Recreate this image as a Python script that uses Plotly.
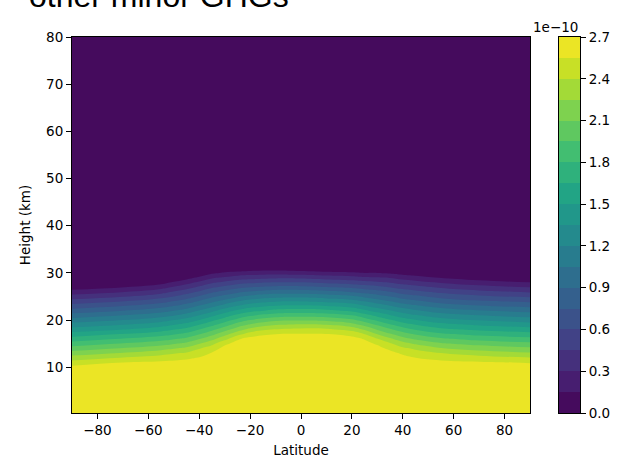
import plotly.graph_objects as go
from plotly.colors import sample_colorscale

# ---------------- data (values in units of 1e-10) ----------------
latitudes = [-90, -70, -55, -45, -40, -35, -30, -25, -20, -10, 0,
             10, 20, 25, 30, 35, 40, 45, 55, 70, 90]

heights_km = [0.3, 5, 9, 10, 11, 12, 13, 14, 15, 16, 17, 18, 19, 20,
              22, 24, 26, 27, 28, 29, 30, 31, 32, 34, 40, 50, 60, 70, 80]

ghg_1e10 = [
    [2.6, 2.6, 2.6, 2.6, 2.6, 2.6, 2.6, 2.6, 2.6, 2.6, 2.6, 2.6, 2.6, 2.6, 2.6, 2.6, 2.6, 2.6, 2.6, 2.6, 2.6],   # 0.3
    [2.6, 2.6, 2.6, 2.6, 2.6, 2.6, 2.6, 2.6, 2.6, 2.6, 2.6, 2.6, 2.6, 2.6, 2.6, 2.6, 2.6, 2.6, 2.6, 2.6, 2.6],   # 5
    [2.6, 2.6, 2.6, 2.6, 2.6, 2.6, 2.6, 2.6, 2.6, 2.6, 2.6, 2.6, 2.6, 2.6, 2.6, 2.6, 2.6, 2.6, 2.6, 2.6, 2.6],   # 9
    [2.59, 2.6, 2.6, 2.6, 2.6, 2.6, 2.6, 2.6, 2.6, 2.6, 2.6, 2.6, 2.6, 2.6, 2.6, 2.6, 2.6, 2.6, 2.6, 2.6, 2.6],  # 10
    [2.46, 2.55, 2.58, 2.6, 2.6, 2.6, 2.6, 2.6, 2.6, 2.6, 2.6, 2.6, 2.6, 2.6, 2.6, 2.6, 2.6, 2.6, 2.59, 2.57, 2.54],  # 11
    [2.32, 2.41, 2.47, 2.52, 2.56, 2.6, 2.6, 2.6, 2.6, 2.6, 2.6, 2.6, 2.6, 2.6, 2.6, 2.6, 2.6, 2.55, 2.50, 2.46, 2.41],  # 12
    [2.17, 2.26, 2.34, 2.42, 2.47, 2.56, 2.6, 2.6, 2.6, 2.6, 2.6, 2.6, 2.6, 2.6, 2.6, 2.6, 2.52, 2.47, 2.40, 2.33, 2.27],  # 13
    [2.02, 2.11, 2.19, 2.28, 2.39, 2.47, 2.6, 2.6, 2.6, 2.6, 2.6, 2.6, 2.6, 2.6, 2.6, 2.51, 2.43, 2.37, 2.26, 2.19, 2.13],  # 14
    [1.87, 1.96, 2.04, 2.14, 2.24, 2.36, 2.52, 2.6, 2.6, 2.6, 2.6, 2.6, 2.6, 2.6, 2.53, 2.42, 2.31, 2.23, 2.12, 2.05, 1.99],  # 15
    [1.72, 1.81, 1.89, 1.99, 2.09, 2.21, 2.35, 2.53, 2.6, 2.6, 2.6, 2.6, 2.6, 2.54, 2.41, 2.28, 2.16, 2.08, 1.98, 1.90, 1.85],  # 16
    [1.57, 1.66, 1.74, 1.84, 1.94, 2.06, 2.20, 2.35, 2.47, 2.55, 2.56, 2.56, 2.50, 2.40, 2.25, 2.12, 2.02, 1.94, 1.83, 1.76, 1.71],  # 17
    [1.42, 1.50, 1.59, 1.70, 1.80, 1.91, 2.04, 2.18, 2.30, 2.41, 2.44, 2.43, 2.35, 2.23, 2.09, 1.97, 1.87, 1.79, 1.69, 1.62, 1.57],  # 18
    [1.27, 1.35, 1.44, 1.55, 1.65, 1.76, 1.88, 2.02, 2.12, 2.24, 2.27, 2.25, 2.16, 2.05, 1.93, 1.82, 1.72, 1.65, 1.55, 1.48, 1.42],  # 19
    [1.12, 1.20, 1.29, 1.41, 1.50, 1.61, 1.73, 1.85, 1.95, 2.06, 2.08, 2.06, 1.98, 1.88, 1.77, 1.67, 1.57, 1.51, 1.41, 1.34, 1.28],  # 20
    [0.81, 0.90, 0.99, 1.11, 1.21, 1.31, 1.42, 1.52, 1.60, 1.69, 1.71, 1.69, 1.62, 1.53, 1.44, 1.36, 1.28, 1.22, 1.13, 1.06, 1.00],  # 22
    [0.51, 0.59, 0.69, 0.82, 0.91, 1.01, 1.10, 1.19, 1.26, 1.33, 1.34, 1.31, 1.26, 1.19, 1.12, 1.05, 0.98, 0.93, 0.84, 0.77, 0.72],  # 24
    [0.21, 0.29, 0.39, 0.53, 0.62, 0.72, 0.79, 0.86, 0.91, 0.97, 0.97, 0.94, 0.89, 0.84, 0.80, 0.75, 0.68, 0.64, 0.56, 0.49, 0.43],  # 26
    [0.06, 0.14, 0.24, 0.38, 0.47, 0.57, 0.63, 0.70, 0.74, 0.78, 0.78, 0.75, 0.71, 0.67, 0.64, 0.59, 0.54, 0.50, 0.42, 0.35, 0.29],  # 27
    [0.02, 0.02, 0.09, 0.24, 0.33, 0.42, 0.48, 0.53, 0.56, 0.60, 0.60, 0.56, 0.53, 0.50, 0.47, 0.44, 0.39, 0.35, 0.28, 0.21, 0.15],  # 28
    [0.02, 0.02, 0.02, 0.09, 0.18, 0.27, 0.32, 0.37, 0.39, 0.42, 0.41, 0.38, 0.35, 0.32, 0.31, 0.29, 0.24, 0.21, 0.14, 0.07, 0.02],  # 29
    [0.02, 0.02, 0.02, 0.02, 0.03, 0.12, 0.17, 0.20, 0.22, 0.24, 0.22, 0.19, 0.17, 0.15, 0.15, 0.13, 0.09, 0.06, 0.02, 0.02, 0.02],  # 30
    [0.02, 0.02, 0.02, 0.02, 0.02, 0.02, 0.02, 0.03, 0.05, 0.06, 0.04, 0.02, 0.02, 0.02, 0.02, 0.02, 0.02, 0.02, 0.02, 0.02, 0.02],  # 31
    [0.02, 0.02, 0.02, 0.02, 0.02, 0.02, 0.02, 0.02, 0.02, 0.02, 0.02, 0.02, 0.02, 0.02, 0.02, 0.02, 0.02, 0.02, 0.02, 0.02, 0.02],  # 32
    [0.02, 0.02, 0.02, 0.02, 0.02, 0.02, 0.02, 0.02, 0.02, 0.02, 0.02, 0.02, 0.02, 0.02, 0.02, 0.02, 0.02, 0.02, 0.02, 0.02, 0.02],  # 34
    [0.02, 0.02, 0.02, 0.02, 0.02, 0.02, 0.02, 0.02, 0.02, 0.02, 0.02, 0.02, 0.02, 0.02, 0.02, 0.02, 0.02, 0.02, 0.02, 0.02, 0.02],  # 40
    [0.02, 0.02, 0.02, 0.02, 0.02, 0.02, 0.02, 0.02, 0.02, 0.02, 0.02, 0.02, 0.02, 0.02, 0.02, 0.02, 0.02, 0.02, 0.02, 0.02, 0.02],  # 50
    [0.02, 0.02, 0.02, 0.02, 0.02, 0.02, 0.02, 0.02, 0.02, 0.02, 0.02, 0.02, 0.02, 0.02, 0.02, 0.02, 0.02, 0.02, 0.02, 0.02, 0.02],  # 60
    [0.02, 0.02, 0.02, 0.02, 0.02, 0.02, 0.02, 0.02, 0.02, 0.02, 0.02, 0.02, 0.02, 0.02, 0.02, 0.02, 0.02, 0.02, 0.02, 0.02, 0.02],  # 70
    [0.02, 0.02, 0.02, 0.02, 0.02, 0.02, 0.02, 0.02, 0.02, 0.02, 0.02, 0.02, 0.02, 0.02, 0.02, 0.02, 0.02, 0.02, 0.02, 0.02, 0.02],  # 80
]

# contour levels (x 1e-10)
levels = [0.0, 0.15, 0.3, 0.45, 0.6, 0.75, 0.9, 1.05, 1.2, 1.35, 1.5, 1.65,
          1.8, 1.95, 2.1, 2.25, 2.4, 2.55, 2.7]

cbar_tickvals = [0.0, 0.3, 0.6, 0.9, 1.2, 1.5, 1.8, 2.1, 2.4, 2.7]
cbar_ticktext = ["0.0", "0.3", "0.6", "0.9", "1.2", "1.5", "1.8", "2.1", "2.4", "2.7"]

x_tickvals = [-80, -60, -40, -20, 0, 20, 40, 60, 80]
x_ticktext = ["\u221280", "\u221260", "\u221240", "\u221220", "0", "20", "40", "60", "80"]
y_tickvals = [10, 20, 30, 40, 50, 60, 70, 80]

# ---------------- colours (matplotlib viridis at band midpoints) ----------------
viridis_mpl = [
    [0.0, "#440154"], [0.1, "#482475"], [0.2, "#414487"], [0.3, "#355f8d"],
    [0.4, "#2a788e"], [0.5, "#21918c"], [0.6, "#22a884"], [0.7, "#44bf70"],
    [0.8, "#7ad151"], [0.9, "#bddf26"], [1.0, "#fde725"],
]
n_bands = len(levels) - 1
band_colors = sample_colorscale(viridis_mpl, [(k + 0.5) / n_bands for k in range(n_bands)])
step = levels[1] - levels[0]

# plotly contour fill: band k sampled at position (k+1)/(n_bands+1) -> stepped scale
n_lev = len(levels)
cscale_contour = []
for k, c in enumerate(band_colors):
    lo = 0.0 if k == 0 else (k + 0.5) / n_lev
    hi = 1.0 if k == n_bands - 1 else (k + 1.5) / n_lev
    cscale_contour += [[lo, c], [hi, c]]

# colour bar drawn as a heatmap of the level bands
cscale_bar = []
for k, c in enumerate(band_colors):
    cscale_bar += [[k / n_bands, c], [(k + 1) / n_bands, c]]
band_mid = [(levels[k] + levels[k + 1]) / 2 for k in range(n_bands)]

FONT = "DejaVu Sans"
FS = 13.5
W, H = 620, 459
L, R, T, B = 72, 40, 37, 46
plot_w = W - L - R  # 508
main_right = 530
cb_left, cb_right = 559, 580

fig = go.Figure()
fig.add_trace(go.Contour(
    x=latitudes, y=heights_km, z=ghg_1e10,
    colorscale=cscale_contour, showscale=False,
    autocontour=False,
    contours=dict(start=levels[0], end=levels[-1], size=step,
                  coloring="fill", showlines=False),
    line=dict(width=0, smoothing=1.3),
    hoverinfo="skip",
    xaxis="x", yaxis="y",
))
fig.add_trace(go.Heatmap(
    x=[0], y=band_mid, z=[[v] for v in band_mid],
    zmin=levels[0], zmax=levels[-1], colorscale=cscale_bar,
    showscale=False, hoverinfo="skip",
    xaxis="x2", yaxis="y2",
))

axis_common = dict(ticks="outside", ticklen=5, tickwidth=1, tickcolor="black",
                   showline=True, linecolor="black", linewidth=1, mirror=True,
                   showgrid=False, zeroline=False, automargin=False,
                   tickfont=dict(family=FONT, size=FS, color="black"))

fig.update_layout(
    width=W, height=H,
    margin=dict(l=L, r=R, t=T, b=B, autoexpand=False),
    paper_bgcolor="white", plot_bgcolor="white",
    showlegend=False,
    xaxis=dict(
        domain=[0, (main_right - L) / plot_w],
        range=[-90, 90], tickmode="array", tickvals=x_tickvals, ticktext=x_ticktext,
        title=dict(text="Latitude", font=dict(family=FONT, size=FS, color="black"), standoff=8),
        **axis_common,
    ),
    yaxis=dict(
        range=[0.3, 80], tickmode="array", tickvals=y_tickvals,
        title=dict(text="Height (km)", font=dict(family=FONT, size=FS, color="black"), standoff=12),
        **axis_common,
    ),
    xaxis2=dict(
        domain=[(cb_left - L) / plot_w, (cb_right - L) / plot_w], anchor="y2",
        range=[-0.5, 0.5], showticklabels=False, ticks="",
        showline=True, linecolor="black", linewidth=1, mirror=True,
        showgrid=False, zeroline=False, automargin=False,
    ),
    yaxis2=dict(
        anchor="x2", side="right", range=[levels[0], levels[-1]],
        tickmode="array", tickvals=cbar_tickvals, ticktext=cbar_ticktext,
        **axis_common,
    ),
    annotations=[
        dict(text="other minor GHGs", xref="paper", yref="paper",
             x=(27 - L) / plot_w, y=1.056, xanchor="left", yanchor="bottom", showarrow=False,
             font=dict(family="Liberation Sans", size=32, color="black")),
        dict(text="1e\u221210", xref="paper", yref="paper",
             x=(cb_right - L) / plot_w, y=(H - B - 27) / (H - T - B), xanchor="right",
             yanchor="middle", showarrow=False,
             font=dict(family=FONT, size=FS, color="black")),
    ],
)

fig.write_html("out.html")
